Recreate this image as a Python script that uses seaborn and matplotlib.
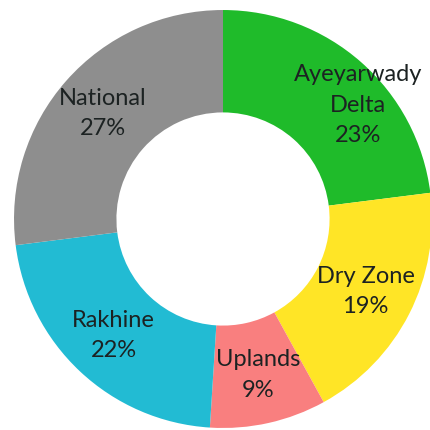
import numpy as np
import seaborn as sns
import matplotlib.pyplot as plt

# Datos del grafico
regiones = ['Ayeyarwady\nDelta', 'Dry Zone', 'Uplands', 'Rakhine', 'National']
porcentajes = [23, 19, 9, 22, 27]
colores = ['#1FBB2A', '#FFE526', '#F97F7F', '#22BBD3', '#8E8E8E']

sns.set_style('white')
plt.rcParams['font.family'] = ['Lato', 'DejaVu Sans']

fig = plt.figure(figsize=(4.3, 4.3), dpi=100)
ax = fig.add_axes([0.0326, 0.0047, 0.972, 0.972])

etiquetas = [f'{r}\n{p}%' for r, p in zip(regiones, porcentajes)]
wedges, textos = ax.pie(porcentajes, colors=colores, startangle=90, counterclock=False,
                        radius=1.0, labels=etiquetas, labeldistance=0.765,
                        wedgeprops=dict(width=0.49, linewidth=0),
                        textprops=dict(fontsize=17, color='#1c2222', ha='center', va='center',
                                       linespacing=1.55))
for t in textos:
    t.set_horizontalalignment('center')
# Excel empuja la etiqueta de tres lineas hacia fuera
textos[0].set_position((textos[0].get_position()[0] + 0.14, textos[0].get_position()[1] - 0.03))

ax.set_xlim(-1, 1)
ax.set_ylim(-1, 1)
ax.set_aspect('equal')
ax.axis('off')
fig.savefig('out.png', dpi=100)
